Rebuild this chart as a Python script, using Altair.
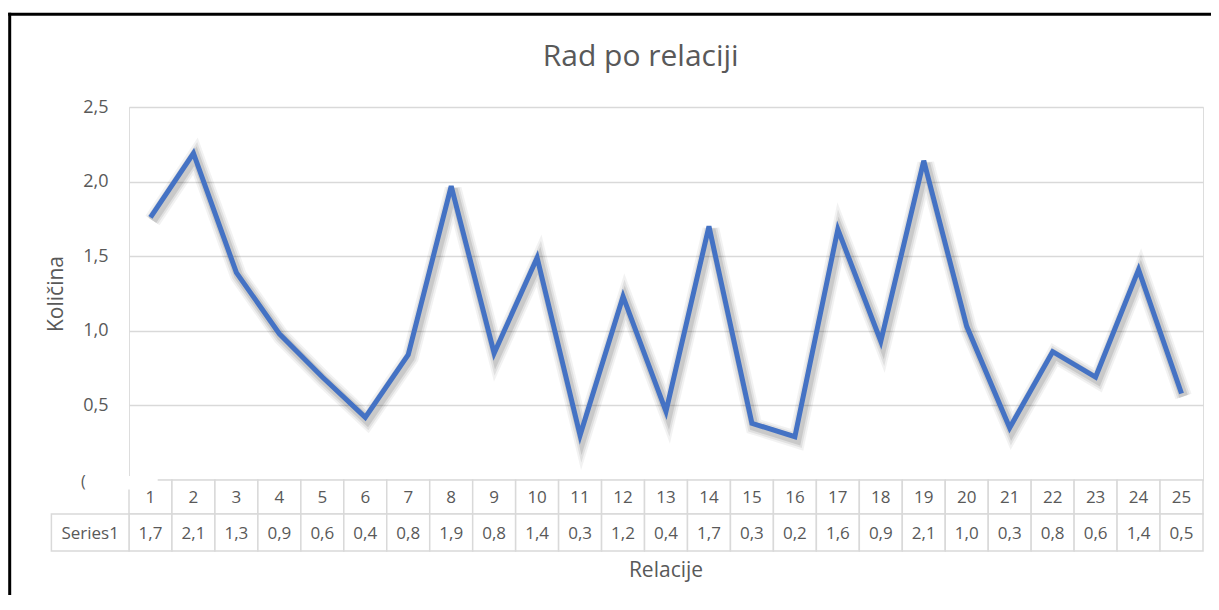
import altair as alt
import pandas as pd

# ---- data ----
categories = [str(i) for i in range(1, 26)]
values = [1.76, 2.19, 1.39, 0.98, 0.69, 0.42, 0.84, 1.97, 0.85, 1.49,
          0.30, 1.23, 0.46, 1.70, 0.38, 0.29, 1.68, 0.93, 2.14, 1.03,
          0.35, 0.86, 0.69, 1.41, 0.58]
table_labels = ["1,7", "2,1", "1,3", "0,9", "0,6", "0,4", "0,8", "1,9", "0,8", "1,4",
                "0,3", "1,2", "0,4", "1,7", "0,3", "0,2", "1,6", "0,9", "2,1", "1,0",
                "0,3", "0,8", "0,6", "1,4", "0,5"]
y_ticks = [0, 0.5, 1.0, 1.5, 2.0, 2.5]
title_text = "Rad po relaciji"
y_title = "Količina"
x_title = "Relacije"
series_name = "Series1"

df = pd.DataFrame({"cat": categories, "val": values, "lbl": table_labels})
one = pd.DataFrame({"t": [title_text], "xt": [x_title], "sn": [series_name], "z": ["("]})

# ---- styling ----
W, H = 1074, 373
FONT = "Open Sans"
GREY = "#595959"
GRID = "#d9d9d9"
BLUE = "#4472C4"
R1, R2 = 34, 71  # table row bottoms (relative to plot bottom)
TFS = 17

band = alt.Scale(type="band", paddingInner=0, paddingOuter=0)
x_center = alt.X("cat:O", sort=categories, scale=band, axis=None, bandPosition=0.5)
x_band = alt.X("cat:O", sort=categories, scale=band, axis=None)

y_enc = alt.Y(
    "val:Q",
    scale=alt.Scale(domain=[0, 2.5], nice=False, zero=True),
    axis=alt.Axis(
        values=y_ticks, grid=True, gridColor=GRID, gridWidth=1.5,
        domain=False, ticks=False, labelPadding=21,
        labelFont=FONT, labelFontSize=18, labelColor=GREY,
        labelExpr="datum.value == 0 ? '' : replace(format(datum.value, '.1f'), '.', ',')",
        title=y_title, titleFont=FONT, titleFontSize=21, titleFontWeight="normal",
        titleColor=GREY, titleAngle=270, titleX=-73, titleY=H / 2,
        titleAlign="center", titleBaseline="middle",
    ),
)

base = alt.Chart(df)

shadows = [
    base.mark_line(color="#000000", opacity=op, strokeWidth=sw, xOffset=2, yOffset=3)
    .encode(x=x_center, y=y_enc)
    for sw, op in [(17, 0.05), (13, 0.07), (9, 0.10)]
]
line = base.mark_line(color=BLUE, strokeWidth=5).encode(x=x_center, y=y_enc)

row1 = base.mark_rect(fill="white", stroke=GRID, strokeWidth=1.5).encode(
    x=x_band, y=alt.value(H), y2=alt.value(H + R1))
row2 = base.mark_rect(fill="white", stroke=GRID, strokeWidth=1.5).encode(
    x=x_band, y=alt.value(H + R1), y2=alt.value(H + R2))
txt1 = base.mark_text(font=FONT, fontSize=TFS, color=GREY, baseline="middle").encode(
    x=x_center, y=alt.value(H + R1 / 2 + 1), text="cat:N")
txt2 = base.mark_text(font=FONT, fontSize=TFS, color=GREY, baseline="middle").encode(
    x=x_center, y=alt.value(H + (R1 + R2) / 2 + 1), text="lbl:N")

deco = alt.Chart(one)
series_cell = deco.mark_rect(fill="white", stroke=GRID, strokeWidth=1.5).encode(
    x=alt.value(-77.6), x2=alt.value(0), y=alt.value(H + R1), y2=alt.value(H + R2))
label_box = deco.mark_rect(fill="white").encode(
    x=alt.value(-50), x2=alt.value(28.7), y=alt.value(H - 4), y2=alt.value(H + 9.5))
series_txt = deco.mark_text(font=FONT, fontSize=TFS, color=GREY, baseline="middle").encode(
    x=alt.value(-38.8), y=alt.value(H + (R1 + R2) / 2 + 1), text="sn:N")
zero_glyph = deco.mark_text(font=FONT, fontSize=16, color=GREY, baseline="middle", align="left").encode(
    x=alt.value(-48), y=alt.value(H + 2), text="z:N")
title = deco.mark_text(font=FONT, fontSize=30, color=GREY, baseline="middle").encode(
    x=alt.value(511.7), y=alt.value(-50), text="t:N")
xtitle = deco.mark_text(font=FONT, fontSize=21, color=GREY, baseline="middle").encode(
    x=alt.value(W / 2), y=alt.value(H + 91), text="xt:N")
border_top = deco.mark_rule(color="black", strokeWidth=3).encode(
    x=alt.value(-120.8), x2=alt.value(W + 8), y=alt.value(-92.8))
border_left = deco.mark_rule(color="black", strokeWidth=3).encode(
    x=alt.value(-119.3), y=alt.value(-94.3), y2=alt.value(H + 115))

chart = alt.layer(
    *shadows, row1, row2, series_cell, label_box, txt1, txt2, series_txt, zero_glyph,
    title, xtitle, border_top, border_left, line,
).properties(
    width=W, height=H,
    autosize=alt.AutoSizeParams(type="none"),
    padding={"left": 121, "top": 99, "right": 8, "bottom": 115},
).configure_view(strokeWidth=0).configure(background="white")

chart.save("out.html", embed_options={"renderer": "svg", "actions": False})
